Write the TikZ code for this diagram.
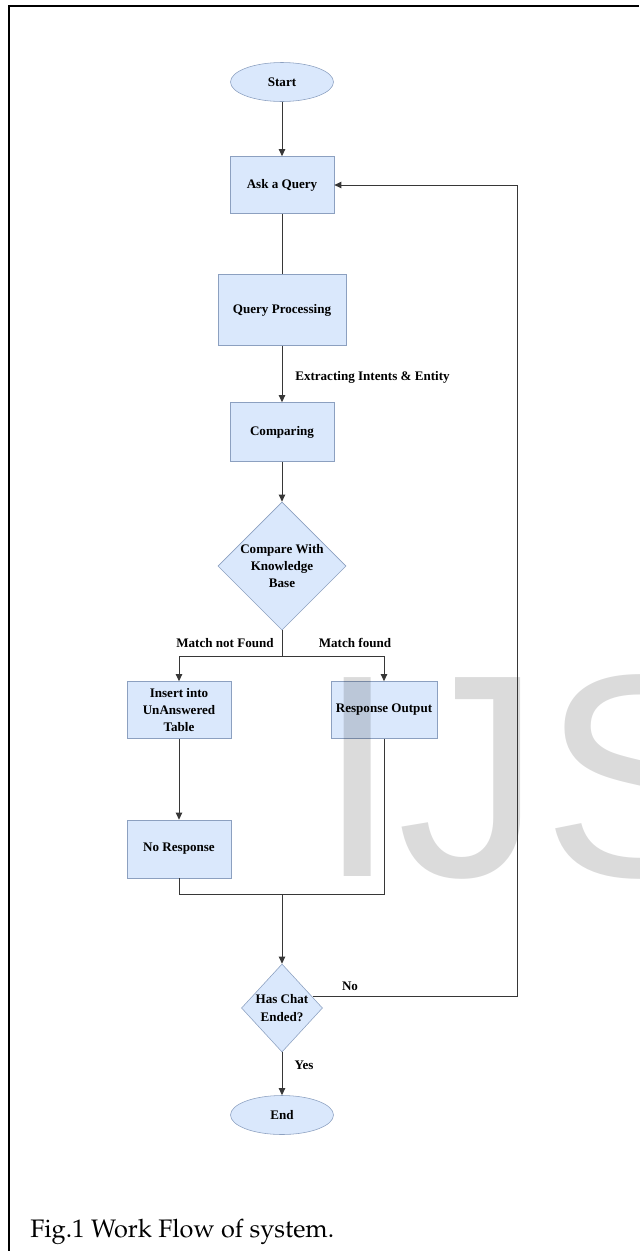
\documentclass[tikz,border=0pt]{standalone}
\usepackage[T1]{fontenc}
\usepackage{fontspec}
\setmainfont{Liberation Serif}
\setsansfont{Liberation Sans}
\usetikzlibrary{shapes.geometric,arrows.meta}
\begin{document}
\begin{tikzpicture}[x=0.025cm, y=-0.025cm,
    box/.style={draw=boxline, fill=boxfill, rectangle, minimum width=2.6cm, minimum height=1.425cm, align=center, font=\lbl},
    term/.style={draw=boxline, fill=boxfill, ellipse, minimum width=2.575cm, minimum height=0.975cm, inner sep=0pt, font=\lbl},
    decide/.style={draw=boxline, fill=boxfill, diamond, inner sep=0pt, align=center, font=\lbl},
    flow/.style={draw=flowline, line width=0.7pt},
    arr/.style={flow, -{Triangle[length=5pt,width=4.5pt]}},
    tag/.style={font=\lbl, inner sep=0pt}]
    \def\lbl{\bfseries\fontsize{9.3}{12.2}\selectfont}
    \def\cap{\fontencoding{T1}\fontfamily{ppl}\fontseries{m}\fontshape{n}\fontsize{18}{20}\selectfont}
    \definecolor{boxfill}{RGB}{218,232,252}
    \definecolor{boxline}{RGB}{140,160,192}
    \definecolor{flowline}{RGB}{55,55,55}
    \useasboundingbox (0,0) rectangle (639,1251);
    \draw[line width=1.4pt] (9,1251) -- (9,5.8) -- (639,5.8);
    \node[term] (start) at (282,82) {Start};
    \node[box] (ask) at (282,185) {Ask a Query};
    \node[box, minimum width=3.2cm, minimum height=1.775cm] (proc) at (282,310) {Query Processing};
    \node[box, minimum height=1.475cm] (cmp) at (282,432) {Comparing};
    \node[decide, minimum width=3.2cm, minimum height=3.2cm] (kb) at (282,566) {Compare With\\Knowledge\\Base};
    \node[box] (ins) at (179,710) {Insert into\\UnAnswered\\Table};
    \node[box] (resp) at (384,710) {Response Output};
    \node[box, minimum height=1.45cm] (nores) at (179,849) {No Response};
    \node[decide, minimum width=2.025cm, minimum height=2.2cm] (chat) at (282,1008) {Has Chat\\Ended?};
    \node[term] (stop) at (282,1115) {End};
    \begin{scope}
      \clip (0,0) rectangle (639,1251);
      \node[anchor=base west, inner sep=0pt, text=black, text opacity=0.14, font=\sffamily\fontsize{205.6}{205.6}\selectfont] (mark) at (317,876) {IJS};
    \end{scope}
    \node[tag, anchor=west] (extract) at (295,377) {Extracting Intents \& Entity};
    \node[tag] (nomatch) at (225,643) {Match not Found};
    \node[tag] (match) at (355,643) {Match found};
    \node[tag] (no) at (350,986) {No};
    \node[tag] (yes) at (304,1065) {Yes};
    \coordinate (split) at (282,656);
    \coordinate (merge) at (282,894);
    \coordinate (back) at (517,0);
    \draw[arr] (start) -- (ask);
    \draw[flow] (ask) -- (proc);
    \draw[arr] (proc) -- (cmp);
    \draw[arr] (cmp) -- (kb);
    \draw[flow] (kb) -- (split);
    \draw[arr] (split) -| (ins);
    \draw[arr] (split) -| (resp);
    \draw[arr] (ins) -- (nores);
    \draw[flow] (nores.south) |- (merge);
    \draw[flow] (resp.south) |- (merge);
    \draw[arr] (merge) -- (chat);
    \draw[arr] (chat.20) -- (chat.20 -| back) |- (ask.east);
    \draw[arr] (chat) -- (stop);
    \node[anchor=base west, inner sep=0pt, font=\cap] (caption) at (30,1237) {Fig.1 Work Flow of system.};
  \end{tikzpicture}
\end{document}
